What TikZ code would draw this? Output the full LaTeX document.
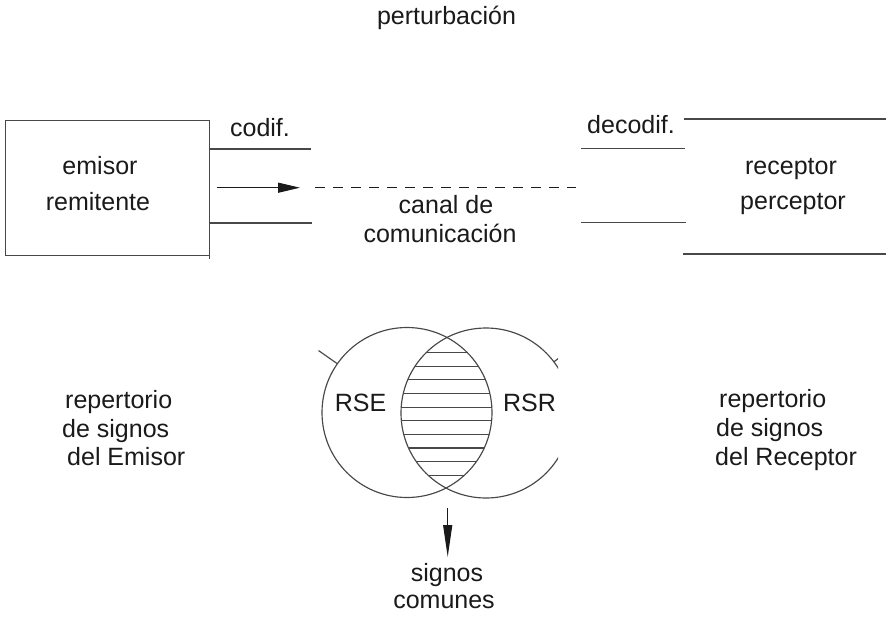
\documentclass[tikz,border=0pt]{standalone}
\usepackage{fontspec}
\setmainfont{Liberation Sans}
\usetikzlibrary{arrows.meta,calc}
\definecolor{lncol}{HTML}{484848}
\definecolor{txcol}{HTML}{1A1A1A}
\begin{document}
\begin{tikzpicture}[x=1pt,y=-1pt,
  ln/.style={line width=1.15pt, draw=lncol},
  arr/.style={line width=1.2pt, draw=txcol},
  hl/.style={line width=1.05pt, draw=lncol},
  txt/.style={anchor=base, inner sep=0pt, font=\fontsize{25}{30}\selectfont, text=txcol},
  txtl/.style={txt, anchor=base west}]
\useasboundingbox[fill=white] (0,0) rectangle (886,616);

% title
\node[txt] (pert) at (446.5,24) {perturbación};

% emitter box and channel walls
\draw[ln] (5.7,120.7) rectangle (209.3,255.7);
\draw[ln] (209.3,255.7) -- (209.3,259);
\coordinate (cTL) at (209.3,149);  \coordinate (cTR) at (311,149);
\coordinate (cBL) at (209.3,223);  \coordinate (cBR) at (312,223);
\draw[ln] (cTL) -- (cTR);
\draw[ln] (cBL) -- (cBR);
\coordinate (dTL) at (581,148.3);  \coordinate (dTR) at (685,148.3);
\coordinate (dBL) at (581,222.7);  \coordinate (dBR) at (686,222.7);
\draw[ln] (dTL) -- (dTR);
\draw[ln] (dBL) -- (dBR);
\coordinate (rT0) at (684,119);    \coordinate (rT1) at (886,119);
\coordinate (rB0) at (683,254);    \coordinate (rB1) at (886,254);
\draw[ln] (rT0) -- (rT1);
\draw[ln] (rB0) -- (rB1);

% texts of the top part
\node[txt] (codif) at (260,136) {codif.};
\node[txt] (emisor) at (100,174) {emisor};
\node[txt] (remit) at (98,210) {remitente};
\node[txt] (canal) at (446,213.3) {canal de};
\node[txt] (comun) at (440,242.7) {comunicación};
\node[txt] (decod) at (631,133.3) {decodif.};
\node[txt] (recep) at (791,174) {receptor};
\node[txt] (percep) at (793,209.3) {perceptor};

% message arrow
\coordinate (a0) at (216.7,187.7);
\coordinate (a1) at (300,187.7);
\coordinate (a2) at (315,187.7);
\coordinate (a3) at (576,187.7);
\draw[arr, -{Triangle[length=22pt,width=10pt]}] (a0) -- (a1);
\draw[arr, line width=1.1pt, dash pattern=on 10pt off 8pt] (a2) -- (a3);

% repertoires
\coordinate (cE) at (407,412.5);
\coordinate (cR) at (486,413);
\begin{scope}
  \clip (cE) circle[radius=85pt];
  \clip (cR) circle[radius=85pt];
  \foreach \yy in {352.7,366.3,379.9,393.6,407.2,420.8,434.4,448.0,461.7,475.3}
    \draw[hl] (380,\yy) -- (520,\yy);
\end{scope}
\draw[ln] (cE) circle[radius=85pt];
\draw[ln] ($(cE)+(145:85pt)$) -- ($(cE)+(145:108pt)$);
\begin{scope}
  \clip (380,300) rectangle (558,520);
  \draw[ln] (cR) circle[radius=85pt];
  \draw[ln] ($(cR)+(37:85pt)$) -- ($(cR)+(37:110pt)$);
\end{scope}
\node[txt] (rse) at (360.5,411.7) {RSE};
\node[txt] (rsr) at (529.5,411.7) {RSR};

\node[txtl] (le1) at (65,408) {repertorio};
\node[txtl] (le2) at (62,437) {de signos};
\node[txtl] (le3) at (67,465) {del Emisor};
\node[txtl] (ri1) at (719,407) {repertorio};
\node[txtl] (ri2) at (716,436) {de signos};
\node[txtl] (ri3) at (715,465) {del Receptor};

% common signs
\coordinate (s0) at (447.7,508);
\coordinate (s1) at (447.7,557);
\draw[arr, -{Triangle[length=32pt,width=9pt]}] (s0) -- (s1);
\node[txt] (sig) at (447,581.7) {signos};
\node[txt] (com) at (444,608.3) {comunes};
\end{tikzpicture}
\end{document}
